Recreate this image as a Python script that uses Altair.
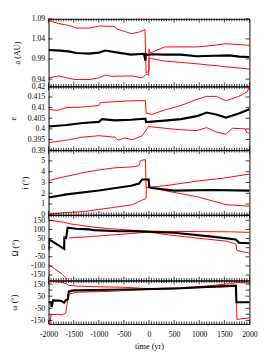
import altair as alt
import pandas as pd

T_MIN, T_MAX = -2000, 2000
X_MAJOR = list(range(-2000, 2001, 500))
X_MINOR = [t for t in range(-2000, 2001, 50) if t % 500 != 0]

# ---- panel a (AU)
A_YTICKS = [0.94, 0.99, 1.04, 1.09]
A_BLACK_T = [-2000, -1769, -1600, -1448, -1192, -1000, -871, -615, -359, -102, -71, -60, -50, 58, 300, 635, 955, 1300, 1596, 1800, 2000]
A_BLACK = [1.0125, 1.011, 1.009, 1.005, 1.0034, 1.006, 1.011, 1.006, 1.001, 1.003, 0.986, 1.004, 1.000, 1.002, 1.001, 1.001, 0.997, 0.998, 0.999, 0.996, 0.995]
A_RED1_T = [-2000, -1800, -1620, -1440, -1190, -1000, -680, -650, -350, -200, -80, -58, 0, 5, 100, 308, 962, 1596, 2000]
A_RED1 = [1.086, 1.078, 1.074, 1.067, 1.067, 1.072, 1.071, 1.065, 1.053, 1.057, 1.063, 0.955, 0.960, 0.993, 0.990, 0.985, 0.978, 0.970, 0.965]
A_RED2_T = [-2000, -1800, -1480, -1190, -1000, -870, -740, -350, -130, -60, -5, 0, 26, 308, 962, 1300, 1538, 2000]
A_RED2 = [0.943, 0.948, 0.939, 0.939, 0.943, 0.950, 0.947, 0.948, 0.943, 0.952, 0.950, 1.015, 1.005, 1.020, 1.020, 1.024, 1.028, 1.024]

# ---- panel e
E_YTICKS = [0.39, 0.395, 0.4, 0.405, 0.41, 0.415, 0.42]
E_BLACK_T = [-2000, -1640, -1320, -1000, -935, -680, -359, -71, -58, 314, 635, 955, 1148, 1340, 1532, 1788, 2000]
E_BLACK = [0.4011, 0.4018, 0.4028, 0.4033, 0.4046, 0.4040, 0.4043, 0.4048, 0.4032, 0.4039, 0.4046, 0.4060, 0.4077, 0.4068, 0.4053, 0.4072, 0.4092]
E_RED1_T = [-2000, -1833, -1640, -1320, -1000, -967, -359, -71, -58, 58, 314, 635, 955, 1148, 1340, 1532, 1788, 1949, 2000]
E_RED1 = [0.4092, 0.4087, 0.4100, 0.4103, 0.4110, 0.4124, 0.4132, 0.4133, 0.4075, 0.4068, 0.4089, 0.4110, 0.4139, 0.4153, 0.4153, 0.4132, 0.4153, 0.4174, 0.4196]
E_RED2_T = [-2000, -1640, -1320, -1000, -680, -615, -487, -327, -135, -10, 314, 635, 955, 1148, 1340, 1532, 1660, 1917, 1949, 2000]
E_RED2 = [0.3935, 0.3947, 0.3961, 0.3968, 0.3961, 0.3947, 0.3957, 0.3949, 0.3968, 0.4011, 0.4003, 0.3996, 0.3992, 0.4006, 0.3985, 0.3975, 0.4003, 0.4000, 0.3982, 0.3980]

# ---- panel i
I_YTICKS = [0, 1, 2, 3, 4, 5]
I_BLACK_T = [-2000, -1640, -1000, -359, -199, -135, -6, 6, 58, 506, 1270, 2000]
I_BLACK = [1.61, 1.90, 2.25, 2.69, 2.90, 3.28, 3.28, 2.55, 2.49, 2.25, 2.30, 2.25]
I_RED1_T = [-2000, -1640, -1320, -1000, -680, -327, -200, -170, -71, -58, 100, 308, 962, 1538, 2000]
I_RED1 = [3.19, 3.57, 3.90, 4.16, 4.36, 4.45, 4.55, 5.03, 5.12, 2.55, 2.50, 2.25, 1.67, 0.94, 0.80]
I_RED2_T = [-2000, -1640, -1320, -1000, -680, -327, -135, -60, -50, 100, 308, 962, 1500, 2000]
I_RED2 = [0.06, 0.21, 0.30, 0.50, 0.70, 0.94, 1.38, 1.50, 2.55, 2.60, 2.69, 3.13, 3.42, 3.78]

# ---- panel Omega
ANG_YTICKS = [-150, -100, -50, 0, 50, 100, 150]
O_BLACK_T = [-2000, -1990, -1690, -1685, -1650, -1620, -1450, -1200, -1100, -600, -327, 500, 1211, 1730, 1790, 2000]
O_BLACK = [-15, 45, -7, 55, 53, 110, 104, 100, 96, 90, 91, 82, 62, 45, 27, 24]
O_RED1_T = [-2000, -1690, -1560, -1110, -790, -150, 0, 500, 1000, 1600, 2000]
O_RED1 = [151, 139, 130, 113, 104, 92, 90, 89, 88, 87, 84]
O_RED2A_T = [-2000, -1750, -1660, -1640]
O_RED2A = [-93, -140, -165, -175]
O_RED2B_T = [-1600, -1110, -150, 0, 385, 827, 1211, 1538, 1730, 1750, 1980, 2000]
O_RED2B = [53, 62, 82, 86, 70, 57, 45, 36, 19, -15, -29, -30]

# ---- panel omega
W_BLACK_T = [-2000, -1948, -1940, -1910, -1756, -1692, -1660, -1615, -1596, -1500, -1115, -794, -154, 635, 1270, 1730, 1740, 2000]
W_BLACK = [0, 0, -39, 15, 12, -3, 15, 25, 90, 98, 100, 103, 108, 116, 129, 137, 0, 0]
W_RED1_T = [-2000, -1800, -1650, -1600, -1450, -1100, -500, -150, 0, 500, 1000, 1300, 1600, 1740, 2000]
W_RED1 = [172, 170, 154, 140, 134, 129, 124, 116, 112, 118, 129, 140, 154, 162, 160]
W_RED2_T = [-2000, -1980, -1948, -1827, -1731, -1660, -1634, -1615, -1442, -794, -154, 500, 1000, 1700, 1740, 1750, 2000]
W_RED2 = [-180, -180, -103, -100, -105, -90, -26, 64, 83, 90, 103, 110, 122, 130, 131, -142, -129]

W = 208
FONT = "Liberation Serif"
MAJ, MIN_ = 4, 2.5


def series_df(items):
    rows = []
    for name, ts, vs in items:
        for i, (t, v) in enumerate(zip(ts, vs)):
            rows.append({"t": t, "v": v, "s": name, "i": i})
    return pd.DataFrame(rows)


def panel(title, title_x, h, domain, yticks, black, reds, bottom=False):
    xs = alt.Scale(domain=[T_MIN, T_MAX], nice=False, zero=False)
    ys = alt.Scale(domain=domain, nice=False, zero=False)
    if bottom:
        xaxis = alt.Axis(values=X_MAJOR, title="time (yr)", ticks=False, domain=False,
                         grid=False, labelPadding=7, labelExpr="'' + datum.value",
                         titlePadding=3, labelFlush=False)
    else:
        xaxis = None
    yaxis = alt.Axis(values=yticks, title=title, ticks=False, domain=False, grid=False,
                     labelPadding=4, labelExpr="'' + datum.value", titleX=title_x,
                     titleY=h / 2, titleAngle=270, titleAlign="center",
                     titleBaseline="middle", labelFlush=False)
    red = alt.Chart(series_df(reds)).mark_line(color="#ff0000", strokeWidth=1, clip=True).encode(
        x=alt.X("t:Q", scale=xs, axis=xaxis),
        y=alt.Y("v:Q", scale=ys, axis=yaxis),
        detail="s:N", order="i:Q")
    blk = alt.Chart(series_df([("k", black[0], black[1])])).mark_line(
        color="black", strokeWidth=2.2, clip=True).encode(
        x=alt.X("t:Q", scale=xs, axis=xaxis),
        y=alt.Y("v:Q", scale=ys, axis=yaxis),
        order="i:Q")
    layers = [red, blk]
    xmaj = pd.DataFrame({"t": X_MAJOR})
    xmin = pd.DataFrame({"t": X_MINOR})
    for df, L in ((xmaj, MAJ), (xmin, MIN_)):
        for y0, y1 in ((0, L), (h, h - L)):
            layers.append(alt.Chart(df).mark_rule(color="black", strokeWidth=0.8).encode(
                x=alt.X("t:Q", scale=xs, axis=xaxis),
                y=alt.value(y0), y2=alt.value(y1)))
    ydf = pd.DataFrame({"v": yticks})
    for x0, x1 in ((0, MAJ), (W, W - MAJ)):
        layers.append(alt.Chart(ydf).mark_rule(color="black", strokeWidth=0.8).encode(
            y=alt.Y("v:Q", scale=ys, axis=yaxis),
            x=alt.value(x0), x2=alt.value(x1)))
    return alt.layer(*layers).properties(width=W, height=h)


p1 = panel("a (AU)", -33, 70, [0.922, 1.09], A_YTICKS, (A_BLACK_T, A_BLACK),
           [("r1", A_RED1_T, A_RED1), ("r2", A_RED2_T, A_RED2)])
p2 = panel("e", -37, 66, [0.39, 0.42], E_YTICKS, (E_BLACK_T, E_BLACK),
           [("r1", E_RED1_T, E_RED1), ("r2", E_RED2_T, E_RED2)])
p3 = panel("i (°)", -25, 67, [0, 6], I_YTICKS, (I_BLACK_T, I_BLACK),
           [("r1", I_RED1_T, I_RED1), ("r2", I_RED2_T, I_RED2)])
p4 = panel("Ω (°)", -35, 68, [-180, 180], ANG_YTICKS, (O_BLACK_T, O_BLACK),
           [("r1", O_RED1_T, O_RED1), ("r2a", O_RED2A_T, O_RED2A), ("r2b", O_RED2B_T, O_RED2B)])
p5 = panel("ω (°)", -36, 45, [-180, 180], ANG_YTICKS, (W_BLACK_T, W_BLACK),
           [("r1", W_RED1_T, W_RED1), ("r2", W_RED2_T, W_RED2)], bottom=True)

chart = alt.vconcat(p1, p2, p3, p4, p5, spacing=0, bounds="flush").properties(
    padding={"left": 0, "right": 4, "top": 0, "bottom": 0}
).configure_view(stroke="black", strokeWidth=1).configure_axis(
    labelFont=FONT, titleFont=FONT, labelFontSize=8, titleFontSize=8.5,
    titleFontWeight="normal", labelColor="black", titleColor="black"
)

chart.save("out.html", embed_options={"renderer": "svg", "actions": False})
